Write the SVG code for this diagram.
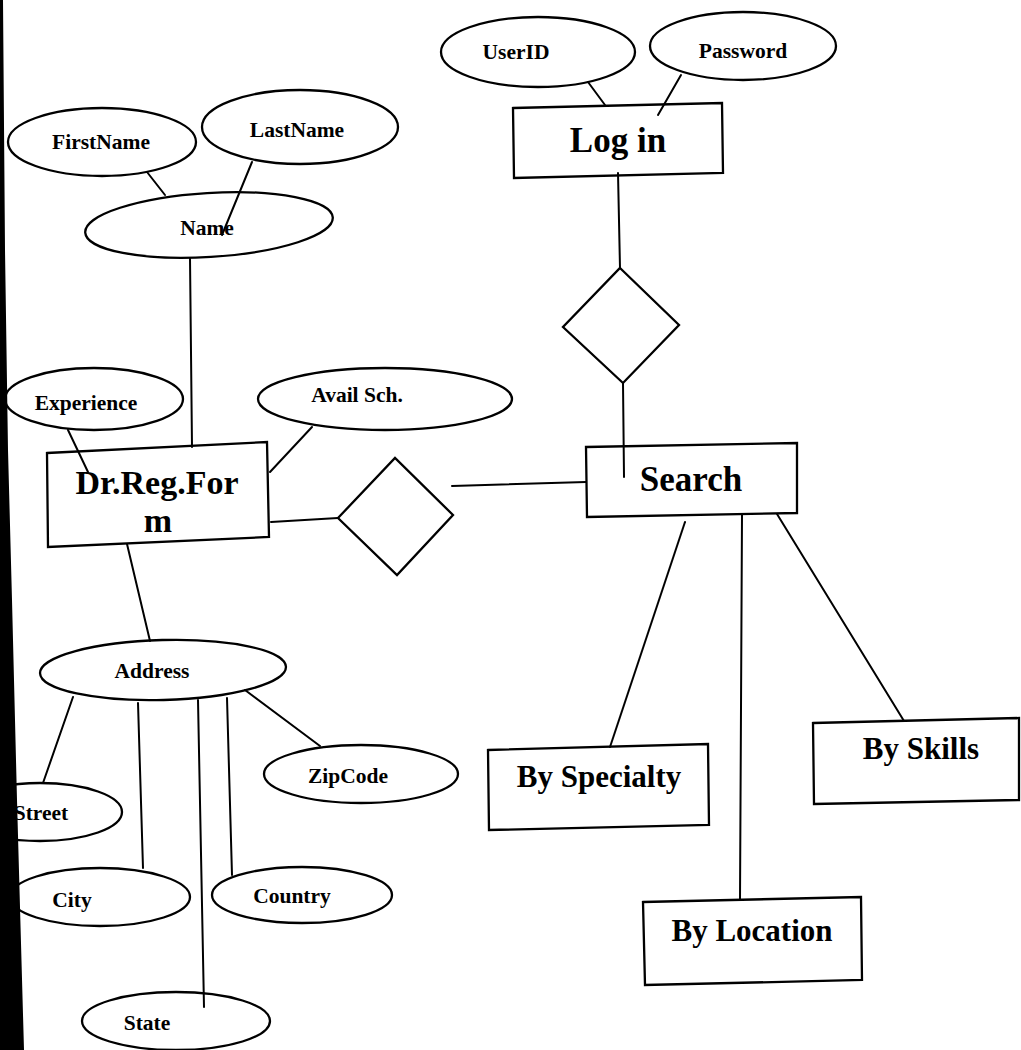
<svg xmlns="http://www.w3.org/2000/svg" width="1021" height="1050" viewBox="0 0 1021 1050">
<style>
  .shape{fill:none;stroke:#000;stroke-width:2.3}
  .ln{stroke:#000;stroke-width:2;fill:none;stroke-linecap:round}
  text{font-family:"Liberation Serif","Times New Roman",serif;font-weight:bold;fill:#000;text-anchor:middle}
  .attr{font-size:21.5px}
  .ent{font-size:35px}
  .sub{font-size:31px}
</style>
<rect width="1021" height="1050" fill="#fff"/>

<!-- connectors -->
<g id="connectors">
  <line class="ln" x1="588" y1="82" x2="605" y2="105"/>
  <line class="ln" x1="681" y1="75" x2="658" y2="115"/>
  <line class="ln" x1="618" y1="173" x2="620" y2="268"/>
  <line class="ln" x1="623" y1="383" x2="624" y2="477"/>
  <line class="ln" x1="452" y1="486" x2="586" y2="482"/>
  <line class="ln" x1="271" y1="522" x2="338" y2="518"/>
  <line class="ln" x1="685" y1="522" x2="610" y2="747"/>
  <line class="ln" x1="742" y1="514" x2="740" y2="900"/>
  <line class="ln" x1="777" y1="514" x2="904" y2="721"/>
  <line class="ln" x1="147" y1="172" x2="165" y2="195"/>
  <line class="ln" x1="252" y1="162" x2="222" y2="235"/>
  <line class="ln" x1="190" y1="258" x2="192" y2="447"/>
  <line class="ln" x1="68" y1="430" x2="88" y2="472"/>
  <line class="ln" x1="312" y1="427" x2="270" y2="472"/>
  <line class="ln" x1="127" y1="544" x2="150" y2="641"/>
  <line class="ln" x1="73" y1="697" x2="43" y2="783"/>
  <line class="ln" x1="138" y1="703" x2="143" y2="868"/>
  <line class="ln" x1="198" y1="700" x2="204" y2="1007"/>
  <line class="ln" x1="227" y1="698" x2="232" y2="875"/>
  <line class="ln" x1="245" y1="690" x2="320" y2="746"/>
</g>

<!-- login side -->
<g id="userid">
  <ellipse class="shape" cx="538" cy="52" rx="97" ry="35"/>
  <text class="attr" x="516" y="59">UserID</text>
</g>
<g id="password">
  <ellipse class="shape" cx="743" cy="46" rx="93" ry="34"/>
  <text class="attr" x="743" y="58">Password</text>
</g>
<g id="login">
  <polygon class="shape" points="513,108 722,103 723,173 514,178"/>
  <text class="ent" x="618" y="152">Log in</text>
</g>
<g id="rel-login-search">
  <polygon class="shape" points="620,268 679,325 623,383 563,327"/>
</g>
<g id="search">
  <polygon class="shape" points="586,447 797,443 797,513 587,517"/>
  <text class="ent" x="691" y="491">Search</text>
</g>
<g id="by-specialty">
  <polygon class="shape" points="488,750 708,744 709,825 489,830"/>
  <text class="sub" x="599" y="787">By Specialty</text>
</g>
<g id="by-skills">
  <polygon class="shape" points="813,723 1019,718 1019,800 814,804"/>
  <text class="sub" x="921" y="759">By Skills</text>
</g>
<g id="by-location">
  <polygon class="shape" points="643,902 861,897 862,980 645,985"/>
  <text class="sub" x="752" y="941">By Location</text>
</g>

<!-- registration side -->
<g id="firstname">
  <ellipse class="shape" cx="102" cy="142" rx="94" ry="34"/>
  <text class="attr" x="101" y="149">FirstName</text>
</g>
<g id="lastname">
  <ellipse class="shape" cx="300" cy="127" rx="98" ry="37"/>
  <text class="attr" x="297" y="137">LastName</text>
</g>
<g id="name">
  <ellipse class="shape" cx="209" cy="225" rx="124" ry="32" transform="rotate(-3.5 209 225)"/>
  <text class="attr" x="207" y="235">Name</text>
</g>
<g id="experience">
  <ellipse class="shape" cx="94" cy="399" rx="89" ry="31"/>
  <text class="attr" x="86" y="410">Experience</text>
</g>
<g id="avail-sch">
  <ellipse class="shape" cx="385" cy="399" rx="127" ry="31"/>
  <text class="attr" x="357" y="402">Avail Sch.</text>
</g>
<g id="dr-reg-form">
  <polygon class="shape" points="47,453 267,442 269,537 48,547"/>
  <text class="ent" x="157" y="494" style="font-size:34px">Dr.Reg.For</text>
  <text class="ent" x="158" y="532" style="font-size:34px">m</text>
</g>
<g id="rel-reg-search">
  <polygon class="shape" points="338,518 395,458 453,515 397,575"/>
</g>
<g id="address">
  <ellipse class="shape" cx="163" cy="670" rx="123" ry="30" transform="rotate(-1.5 163 670)"/>
  <text class="attr" x="152" y="678">Address</text>
</g>
<g id="street">
  <ellipse class="shape" cx="40" cy="812" rx="82" ry="29"/>
  <text class="attr" x="41" y="820">Street</text>
</g>
<g id="city">
  <ellipse class="shape" cx="100" cy="897" rx="90" ry="29"/>
  <text class="attr" x="72" y="907">City</text>
</g>
<g id="country">
  <ellipse class="shape" cx="302" cy="895" rx="90" ry="28"/>
  <text class="attr" x="292" y="903">Country</text>
</g>
<g id="zipcode">
  <ellipse class="shape" cx="361" cy="774" rx="97" ry="29"/>
  <text class="attr" x="348" y="783">ZipCode</text>
</g>
<g id="state">
  <ellipse class="shape" cx="176" cy="1021" rx="94" ry="29"/>
  <text class="attr" x="147" y="1030">State</text>
</g>

<!-- dark binding edge along the left margin -->
<polygon fill="#000" points="0,0 3,0 5,250 8,450 12,600 17,800 24,1050 0,1050"/>
</svg>
